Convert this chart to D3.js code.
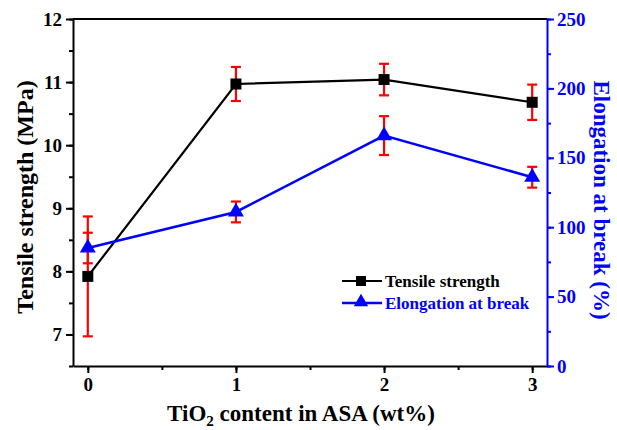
<!DOCTYPE html>
<html>
  <head>
    <meta charset="utf-8">
    <script src="https://d3js.org/d3.v7.min.js"></script>
    <style>
      body { margin: 0px; background: #fff; }
      text { font-family: 'Liberation Serif', 'Times New Roman', serif; font-weight: bold; }
      .tick text { font-size: 19px; }
    </style>
  </head>
  <body>
    <script>
      const contents = [0, 1, 2, 3];
      const tensile = [7.92, 10.97, 11.04, 10.68];
      const tensileErr = [0.95, 0.27, 0.25, 0.28];
      const elongation = [85, 111, 166, 136];
      const elongationErr = [11, 7.5, 14, 7.5];
      const leftTicks = [7, 8, 9, 10, 11, 12];
      const rightTicks = [0, 50, 100, 150, 200, 250];

      const width = 617, height = 430;
      const margin = { left: 73, right: 70, top: 19, bottom: 64 };
      const innerW = width - margin.left - margin.right;
      const innerH = height - margin.top - margin.bottom;
      const blue = '#0000ff', red = '#ff0000';

      const svg = d3.select('body').append('svg')
        .attr('width', width).attr('height', height);
      const g = svg.append('g')
        .attr('transform', `translate(${margin.left},${margin.top})`);

      const x = d3.scaleLinear().domain([-0.1, 3.1]).range([0, innerW]);
      const yL = d3.scaleLinear().domain([6.5, 12]).range([innerH, 0]);
      const yR = d3.scaleLinear().domain([0, 250]).range([innerH, 0]);

      // frame top line
      g.append('line')
        .attr('x1', 0).attr('x2', innerW).attr('y1', 0).attr('y2', 0)
        .attr('stroke', '#000').attr('stroke-width', 2);

      // minor ticks
      const minorL = d3.range(6.5, 12.01, 0.5);
      const minorX = d3.range(0, 3.01, 0.5);
      const minorR = d3.range(0, 250.1, 25);

      g.append('g').attr('transform', `translate(0,${innerH})`)
        .call(d3.axisBottom(x).tickValues(minorX).tickSize(4).tickFormat(''))
        .call(a => a.select('.domain').remove())
        .selectAll('line').attr('stroke-width', 2);
      g.append('g')
        .call(d3.axisLeft(yL).tickValues(minorL).tickSize(4).tickFormat(''))
        .call(a => a.select('.domain').remove())
        .selectAll('line').attr('stroke-width', 2);
      g.append('g').attr('transform', `translate(${innerW},0)`)
        .call(d3.axisRight(yR).tickValues(minorR).tickSize(4).tickFormat(''))
        .call(a => a.select('.domain').remove())
        .selectAll('line').attr('stroke', blue).attr('stroke-width', 2);

      const xAxisG = g.append('g').attr('transform', `translate(0,${innerH})`)
        .call(d3.axisBottom(x).tickValues(contents).tickSize(7).tickSizeOuter(0).tickPadding(5).tickFormat(d3.format('d')));
      xAxisG.select('.domain').attr('stroke-width', 2);
      xAxisG.selectAll('.tick line').attr('stroke-width', 2);
      xAxisG.selectAll('.tick text').attr('fill', '#000');

      const yAxisG = g.append('g')
        .call(d3.axisLeft(yL).tickValues(leftTicks).tickSize(7).tickSizeOuter(0).tickPadding(4).tickFormat(d3.format('d')));
      yAxisG.select('.domain').attr('stroke-width', 2);
      yAxisG.selectAll('.tick line').attr('stroke-width', 2);
      yAxisG.selectAll('.tick text').attr('fill', '#000');

      const yRAxisG = g.append('g').attr('transform', `translate(${innerW},0)`)
        .call(d3.axisRight(yR).tickValues(rightTicks).tickSize(7).tickSizeOuter(0).tickPadding(3).tickFormat(d3.format('d')));
      yRAxisG.select('.domain').attr('stroke', blue).attr('stroke-width', 2);
      yRAxisG.selectAll('.tick line').attr('stroke', blue).attr('stroke-width', 2);
      yRAxisG.selectAll('.tick text').attr('fill', blue);

      // axis titles
      svg.append('text')
        .attr('transform', 'translate(33,197) rotate(-90)')
        .attr('text-anchor', 'middle').attr('font-size', 24).attr('fill', '#000')
        .text('Tensile strength (MPa)');
      svg.append('text')
        .attr('transform', 'translate(594,200) rotate(90)')
        .attr('text-anchor', 'middle').attr('font-size', 23).attr('fill', blue)
        .text('Elongation at break (%)');
      const xt = svg.append('text')
        .attr('x', 301).attr('y', 421)
        .attr('text-anchor', 'middle').attr('font-size', 23).attr('fill', '#000');
      xt.append('tspan').text('TiO');
      xt.append('tspan').attr('font-size', 15).attr('dy', 5).text('2');
      xt.append('tspan').attr('dy', -5).text(' content in ASA (wt%)');

      // lines
      const tData = contents.map((c, i) => ({ c, v: tensile[i], e: tensileErr[i] }));
      const eData = contents.map((c, i) => ({ c, v: elongation[i], e: elongationErr[i] }));

      g.append('path').datum(tData)
        .attr('fill', 'none').attr('stroke', '#000').attr('stroke-width', 2.2)
        .attr('d', d3.line().x(d => x(d.c)).y(d => yL(d.v)));
      g.append('path').datum(eData)
        .attr('fill', 'none').attr('stroke', blue).attr('stroke-width', 2.6)
        .attr('d', d3.line().x(d => x(d.c)).y(d => yR(d.v)));

      // error bars
      function errBars(data, y) {
        const eb = g.append('g').selectAll('g').data(data).enter().append('g')
          .attr('stroke', red).attr('stroke-width', 2.2);
        eb.append('line')
          .attr('x1', d => x(d.c)).attr('x2', d => x(d.c))
          .attr('y1', d => y(d.v - d.e)).attr('y2', d => y(d.v + d.e));
        [-1, 1].forEach(s => {
          eb.append('line')
            .attr('x1', d => x(d.c) - 5).attr('x2', d => x(d.c) + 5)
            .attr('y1', d => y(d.v + s * d.e)).attr('y2', d => y(d.v + s * d.e));
        });
      }
      errBars(tData, yL);
      errBars(eData, yR);

      // markers
      g.append('g').selectAll('rect').data(tData).enter().append('rect')
        .attr('x', d => x(d.c) - 5.5).attr('y', d => yL(d.v) - 5.5)
        .attr('width', 11).attr('height', 11).attr('fill', '#000');
      const tri = d3.symbol().type(d3.symbolTriangle).size(110);
      g.append('g').selectAll('path').data(eData).enter().append('path')
        .attr('transform', d => `translate(${x(d.c)},${yR(d.v)})`)
        .attr('d', tri).attr('fill', blue);

      // legend
      const leg = svg.append('g').attr('transform', 'translate(342,281)');
      leg.append('line').attr('x1', 0).attr('x2', 40).attr('y1', 0).attr('y2', 0)
        .attr('stroke', '#000').attr('stroke-width', 2.2);
      leg.append('rect').attr('x', 14).attr('y', -5).attr('width', 10).attr('height', 10).attr('fill', '#000');
      leg.append('text').attr('x', 43).attr('y', 6).attr('font-size', 17).attr('fill', '#000')
        .text('Tensile strength');
      leg.append('line').attr('x1', 0).attr('x2', 40).attr('y1', 22).attr('y2', 22)
        .attr('stroke', blue).attr('stroke-width', 2.6);
      leg.append('path').attr('transform', 'translate(19,21)')
        .attr('d', d3.symbol().type(d3.symbolTriangle).size(90)).attr('fill', blue);
      leg.append('text').attr('x', 43).attr('y', 28).attr('font-size', 17).attr('fill', blue)
        .text('Elongation at break');
    </script>
  </body>
</html>
